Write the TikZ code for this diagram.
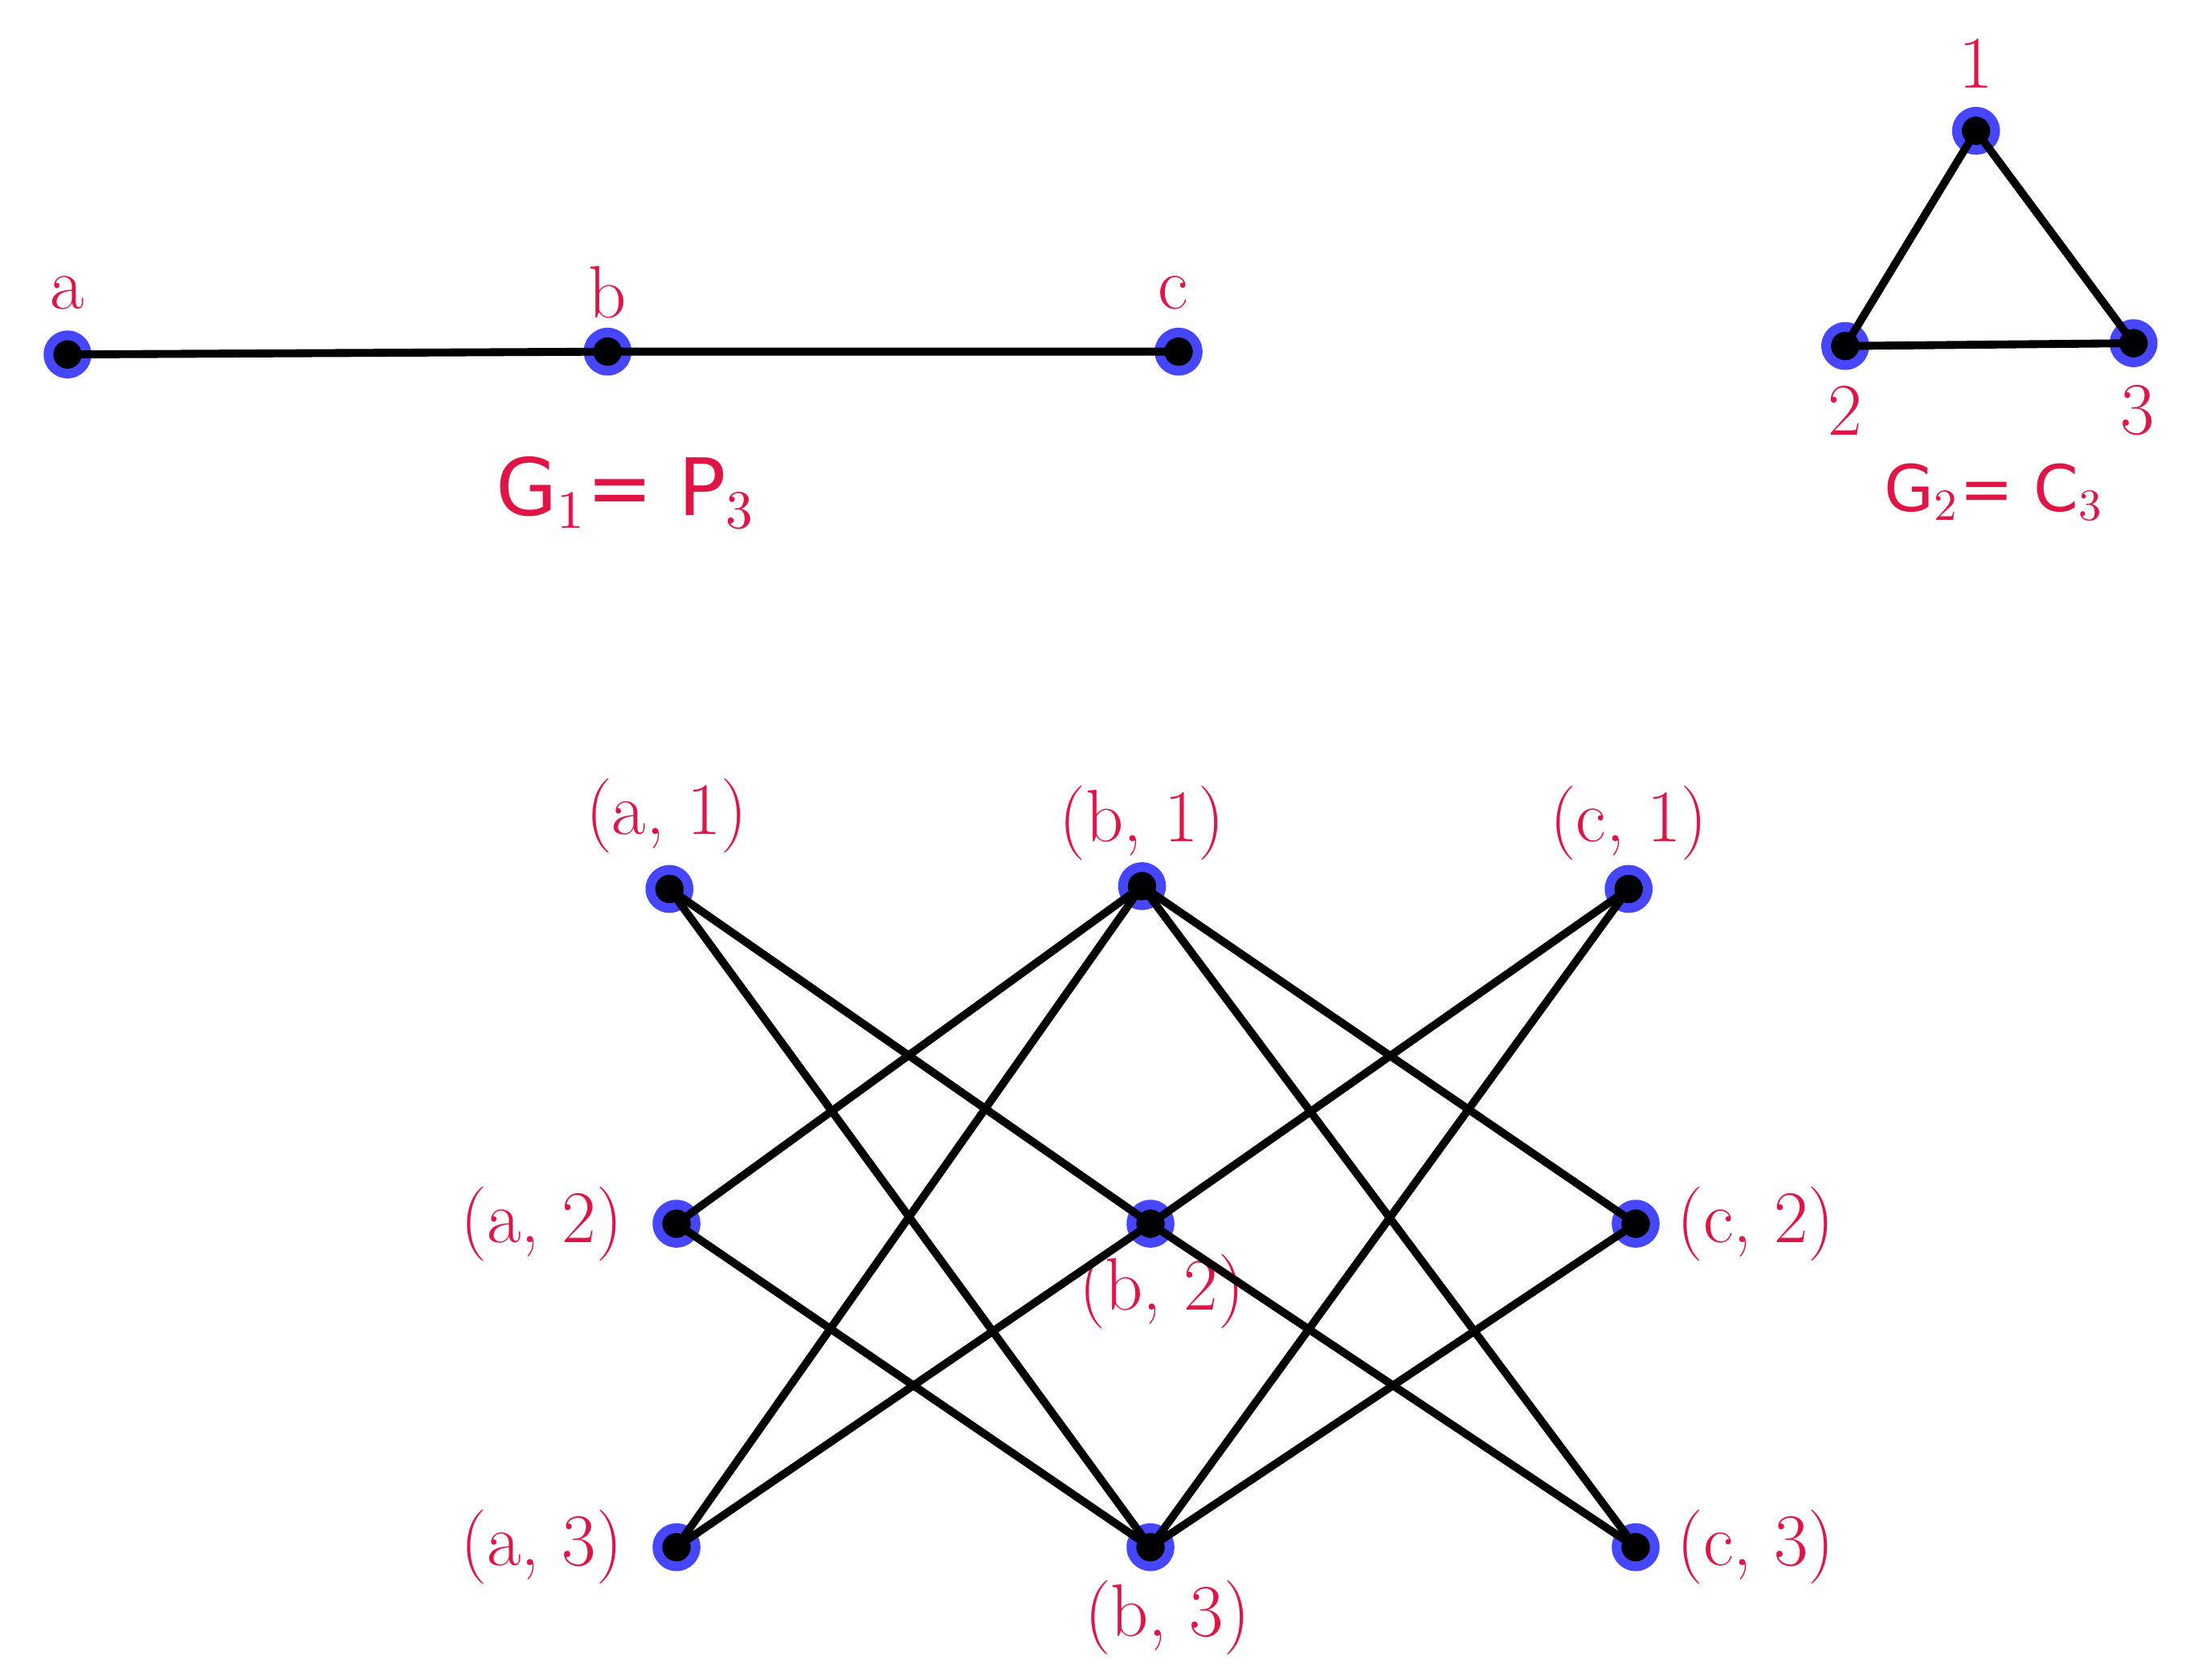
\documentclass[tikz,border=0pt]{standalone}
\usepackage{fontspec}
\setsansfont{DejaVu Sans}
\begin{document}
\begin{tikzpicture}[x=0.01cm,y=-0.01cm,
  vtx/.style={circle,fill={rgb,255:red,70;green,70;blue,255},minimum size=0.34cm,inner sep=0pt,
    path picture={\fill[black] (path picture bounding box.center) circle (0.1cm);}},
  lab/.style={text={rgb,255:red,225;green,20;blue,70},font=\fontsize{15}{17}\selectfont},
  ed/.style={line width=1.6pt,black}]
\useasboundingbox (0,0) rectangle (1560,1194);
\node[vtx] (a) at (48,252) {};
\node[vtx] (b) at (432,250) {};
\node[vtx] (c) at (838,250) {};
\node[lab] at (48,208) {a};
\node[lab] at (432,208) {b};
\node[lab] at (834,208) {c};
\node[lab,font=\sffamily\fontsize{16}{18}\selectfont] at (445,350) {G$_1$= P$_3$};
\node[vtx] (n1) at (1405,93) {};
\node[vtx] (n2) at (1312,246) {};
\node[vtx] (n3) at (1517,244) {};
\node[lab] at (1405,45) {1};
\node[lab] at (1312,292) {2};
\node[lab] at (1520,292) {3};
\node[lab,font=\sffamily\fontsize{13}{15}\selectfont] at (1418,350) {G$_2$= C$_3$};
\begin{scope}[on background layer/.style={}]
\foreach \p/\x/\y in {a1/476/632,b1/812/630,c1/1158/632,a2/481/870,b2/818/870,c2/1163/870,a3/481/1100,b3/818/1100,c3/1163/1100}
  \node[vtx] (\p) at (\x,\y) {};
\end{scope}
\node[lab] at (474,580) {(a, 1)};
\node[lab] at (812,585) {(b, 1)};
\node[lab] at (1158,585) {(c, 1)};
\node[lab,left] at (455,870) {(a, 2)};
\node[lab] at (826,918) {(b, 2)};
\node[lab,right] at (1180,870) {(c, 2)};
\node[lab,left] at (455,1100) {(a, 3)};
\node[lab] at (830,1150) {(b, 3)};
\node[lab,right] at (1180,1100) {(c, 3)};
\begin{scope}
\draw[ed] (a.center)--(b.center)--(c.center);
\draw[ed] (n1.center)--(n2.center)--(n3.center)--cycle;
\foreach \i/\j in {1/2,1/3,2/1,2/3,3/1,3/2}{
  \draw[ed] (a\i.center)--(b\j.center);
  \draw[ed] (b\i.center)--(c\j.center);
}
\end{scope}
\foreach \p in {a,b,c,n1,n2,n3,a1,b1,c1,a2,b2,c2,a3,b3,c3}
  \fill[black] (\p.center) circle (0.1cm);
\end{tikzpicture}
\end{document}
